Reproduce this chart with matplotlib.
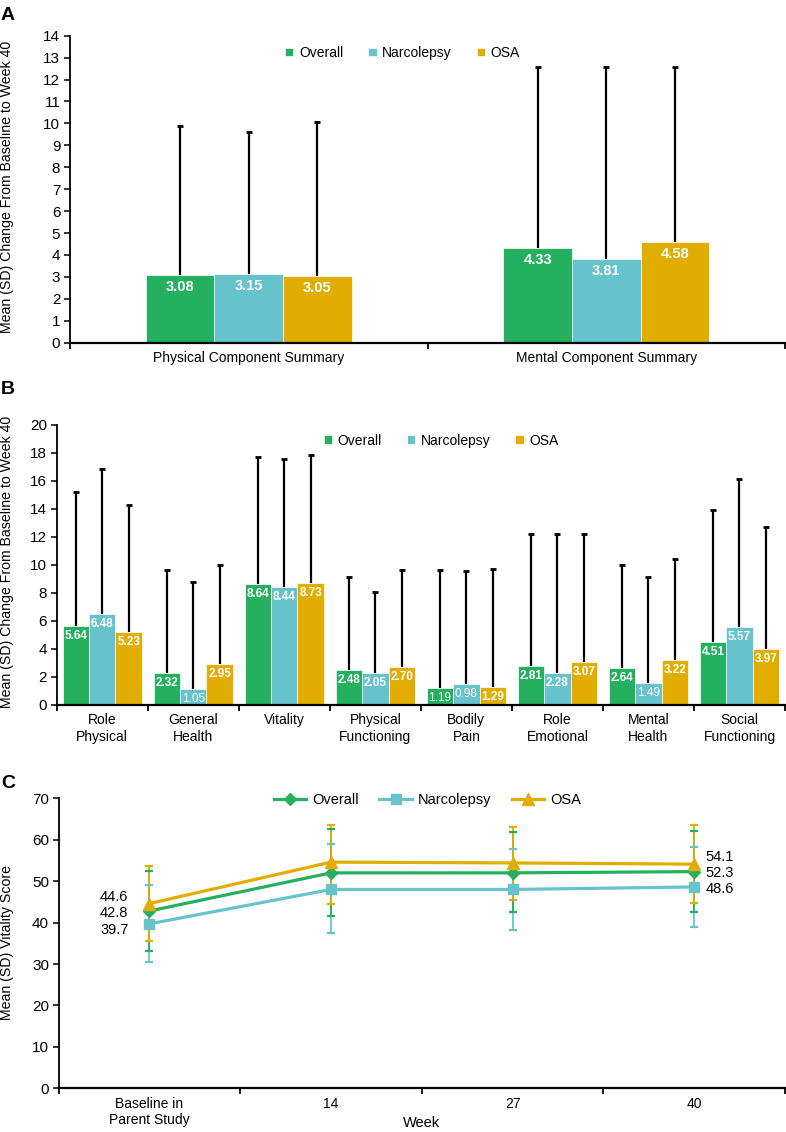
import numpy as np
import matplotlib.pyplot as plt

plt.rcParams["font.family"] = ["Liberation Sans", "DejaVu Sans"]

# ------------------------------------------------------------
# Datos
# ------------------------------------------------------------
series = ["Overall", "Narcolepsy", "OSA"]
colors = ["#24B05F", "#66C3CB", "#E0AD00"]

# Panel A: SF-36 resúmenes
a_cats = ["Physical Component Summary", "Mental Component Summary"]
a_overall = [3.08, 4.33]
a_narco = [3.15, 3.81]
a_osa = [3.05, 4.58]
a_overall_top = [9.9, 12.55]
a_narco_top = [9.6, 12.55]
a_osa_top = [10.06, 12.55]

# Panel B: dominios
b_cats = ["Role\nPhysical", "General\nHealth", "Vitality", "Physical\nFunctioning",
          "Bodily\nPain", "Role\nEmotional", "Mental\nHealth", "Social\nFunctioning"]
b_overall = [5.64, 2.32, 8.64, 2.48, 1.19, 2.81, 2.64, 4.51]
b_narco = [6.48, 1.05, 8.44, 2.05, 0.98, 2.28, 1.49, 5.57]
b_osa = [5.23, 2.95, 8.73, 2.70, 1.29, 3.07, 3.22, 3.97]
# altura dibujada de las barras (algunas no coinciden con su etiqueta)
b_narco_drawn = [6.48, 1.12, 8.44, 2.30, 1.50, 2.28, 1.57, 5.57]
b_overall_top = [15.2, 9.67, 17.69, 9.12, 9.67, 12.24, 10.0, 13.9]
b_narco_top = [16.88, 8.81, 17.55, 8.1, 9.6, 12.24, 9.12, 16.17]
b_osa_top = [14.3, 10.0, 17.86, 9.67, 9.74, 12.24, 10.4, 12.74]
b_light = {(1, 1), (0, 4), (1, 4), (1, 6)}  # etiquetas sin negrita (serie, categoria)

# Panel C: puntuación de vitalidad
c_cats = ["Baseline in\nParent Study", "14", "27", "40"]
c_overall = [42.8, 52.0, 52.0, 52.3]
c_narco = [39.7, 48.0, 48.0, 48.6]
c_osa = [44.6, 54.6, 54.4, 54.1]
c_overall_hi = [52.5, 62.6, 61.9, 62.1]
c_overall_lo = [33.2, 41.7, 42.5, 42.5]
c_narco_hi = [49.0, 59.05, 57.8, 58.3]
c_narco_lo = [30.5, 37.4, 38.2, 38.9]
c_osa_hi = [53.7, 63.6, 63.0, 63.6]
c_osa_lo = [35.55, 44.4, 45.5, 44.8]

W, H = 786, 1132
fig = plt.figure(figsize=(W / 100, H / 100), dpi=100)


def axes_px(l, t, r, b):
    return fig.add_axes([l / W, 1 - b / H, (r - l) / W, (b - t) / H])


def style(ax, n):
    for s in ["top", "right"]:
        ax.spines[s].set_visible(False)
    ax.spines["left"].set_linewidth(1.3)
    ax.spines["bottom"].set_linewidth(1.6)
    ax.set_xlim(-0.5, n - 0.5)
    ax.set_xticks(np.arange(n))
    ax.set_xticks(np.arange(n + 1) - 0.5, minor=True)
    ax.tick_params(axis="x", which="major", length=0, labelsize=10, pad=6)
    ax.tick_params(axis="x", which="minor", length=4, width=1.3, direction="out")
    ax.tick_params(axis="y", length=4, width=1.1, labelsize=11, pad=3)


def px2pt(v):
    return v * 0.72


# ------------------------------------------------------------
# A
# ------------------------------------------------------------
axA = axes_px(70, 35.7, 785, 342.7)
style(axA, 2)
x = np.arange(2)
wA = 0.192
handles = []
for i, (vals, tops) in enumerate([(a_overall, a_overall_top), (a_narco, a_narco_top),
                                 (a_osa, a_osa_top)]):
    xi = x + (i - 1) * wA
    h = axA.bar(xi, vals, wA, color=colors[i], edgecolor="white", linewidth=0.5, zorder=2)
    handles.append(h)
    axA.vlines(xi, vals, tops, color="black", lw=1.6, zorder=1)
    axA.plot(xi, tops, ls="none", marker="_", ms=4.5, mew=2, color="black")
    for xx, v in zip(xi, vals):
        axA.annotate(f"{v:.2f}", (xx, v), xytext=(0, px2pt(-12)), textcoords="offset points",
                     ha="center", va="center", color="white", fontsize=10.5, fontweight="bold")
axA.set_ylim(0, 14)
axA.set_yticks(range(0, 15))
axA.set_xticklabels(a_cats)
axA.legend(handles, series, ncol=3, loc="center", bbox_to_anchor=(0.465, 0.944), frameon=False,
           fontsize=10, handlelength=0.6, handleheight=0.6, handletextpad=0.4, columnspacing=1.8)
fig.text(7.5 / W, 1 - 187 / H, "Mean (SD) Change From Baseline to Week 40", rotation=90,
         ha="center", va="center", fontsize=10.2)
fig.text(1 / W, 1 - 15 / H, "A", fontsize=14, fontweight="bold", va="center", ha="left")

# ------------------------------------------------------------
# B
# ------------------------------------------------------------
axB = axes_px(56.7, 425, 785, 705)
style(axB, 8)
x = np.arange(8)
wB = 0.29
handles = []
for i, (vals, drawn, tops) in enumerate([(b_overall, b_overall, b_overall_top),
                                          (b_narco, b_narco_drawn, b_narco_top),
                                          (b_osa, b_osa, b_osa_top)]):
    xi = x + (i - 1) * wB
    h = axB.bar(xi, drawn, wB, color=colors[i], edgecolor="white", linewidth=0.5, zorder=2)
    handles.append(h)
    axB.vlines(xi, drawn, tops, color="black", lw=1.6, zorder=1)
    axB.plot(xi, tops, ls="none", marker="_", ms=4.5, mew=2, color="black")
    for j, (xx, v, d) in enumerate(zip(xi, vals, drawn)):
        fw = "normal" if (i, j) in b_light else "bold"
        axB.annotate(f"{v:.2f}", (xx, d), xytext=(0, px2pt(-10)), textcoords="offset points",
                     ha="center", va="center", color="white", fontsize=8.5, fontweight=fw)
axB.set_ylim(0, 20)
axB.set_yticks(range(0, 21, 2))
axB.set_xticklabels(b_cats, linespacing=1.2)
axB.legend(handles, series, ncol=3, loc="center", bbox_to_anchor=(0.528, 0.944), frameon=False,
           fontsize=10, handlelength=0.6, handleheight=0.6, handletextpad=0.4, columnspacing=1.8)
fig.text(7.5 / W, 1 - 562 / H, "Mean (SD) Change From Baseline to Week 40", rotation=90,
         ha="center", va="center", fontsize=10.2)
fig.text(1 / W, 1 - 389 / H, "B", fontsize=14, fontweight="bold", va="center", ha="left")

# ------------------------------------------------------------
# C
# ------------------------------------------------------------
axC = axes_px(58.7, 798.3, 785, 1088.3)
style(axC, 4)
x = np.arange(4)
markers = ["D", "s", "^"]
msizes = [6, 7.5, 8]
c_data = [(c_overall, c_overall_lo, c_overall_hi),
          (c_narco, c_narco_lo, c_narco_hi),
          (c_osa, c_osa_lo, c_osa_hi)]
for i in [1, 0, 2]:
    vals, lo, hi = c_data[i]
    axC.vlines(x, lo, hi, color=colors[i], lw=1.3, zorder=2)
for i in [1, 0, 2]:
    vals, lo, hi = c_data[i]
    axC.plot(x, lo, ls="none", marker="_", ms=6, mew=1.6, color=colors[i], zorder=3)
    axC.plot(x, hi, ls="none", marker="_", ms=6, mew=1.6, color=colors[i], zorder=3)
lines = []
for i in range(3):
    vals = c_data[i][0]
    ln, = axC.plot(x, vals, color=colors[i], lw=2.3, marker=markers[i], ms=msizes[i],
                   zorder=4 + i)
    lines.append(ln)

left_off = [-2.3, -6.2, 6.8]
right_off = [-1.7, -1.7, 7.5]
for i in range(3):
    vals = c_data[i][0]
    axC.annotate(f"{vals[0]:.1f}", (x[0], vals[0]), xytext=(px2pt(-21), px2pt(left_off[i])),
                 textcoords="offset points", ha="right", va="center", fontsize=10.5)
    axC.annotate(f"{vals[-1]:.1f}", (x[-1], vals[-1]), xytext=(px2pt(11), px2pt(right_off[i])),
                 textcoords="offset points", ha="left", va="center", fontsize=10.5)

axC.set_ylim(0, 70)
axC.set_yticks(range(0, 71, 10))
axC.set_xticklabels(c_cats, linespacing=1.2)
axC.set_xlabel("Week", fontsize=10.5)
axC.xaxis.set_label_coords(0.5, -0.097)
axC.legend(lines, series, ncol=3, loc="center", bbox_to_anchor=(0.508, 0.994), frameon=False,
           fontsize=10.5, handlelength=2.2, handletextpad=0.45, columnspacing=1.4)
fig.text(7.5 / W, 1 - 942 / H, "Mean (SD) Vitality Score", rotation=90,
         ha="center", va="center", fontsize=10.2)
fig.text(1 / W, 1 - 783 / H, "C", fontsize=14, fontweight="bold", va="center", ha="left")

fig.savefig("out.png", dpi=100)
